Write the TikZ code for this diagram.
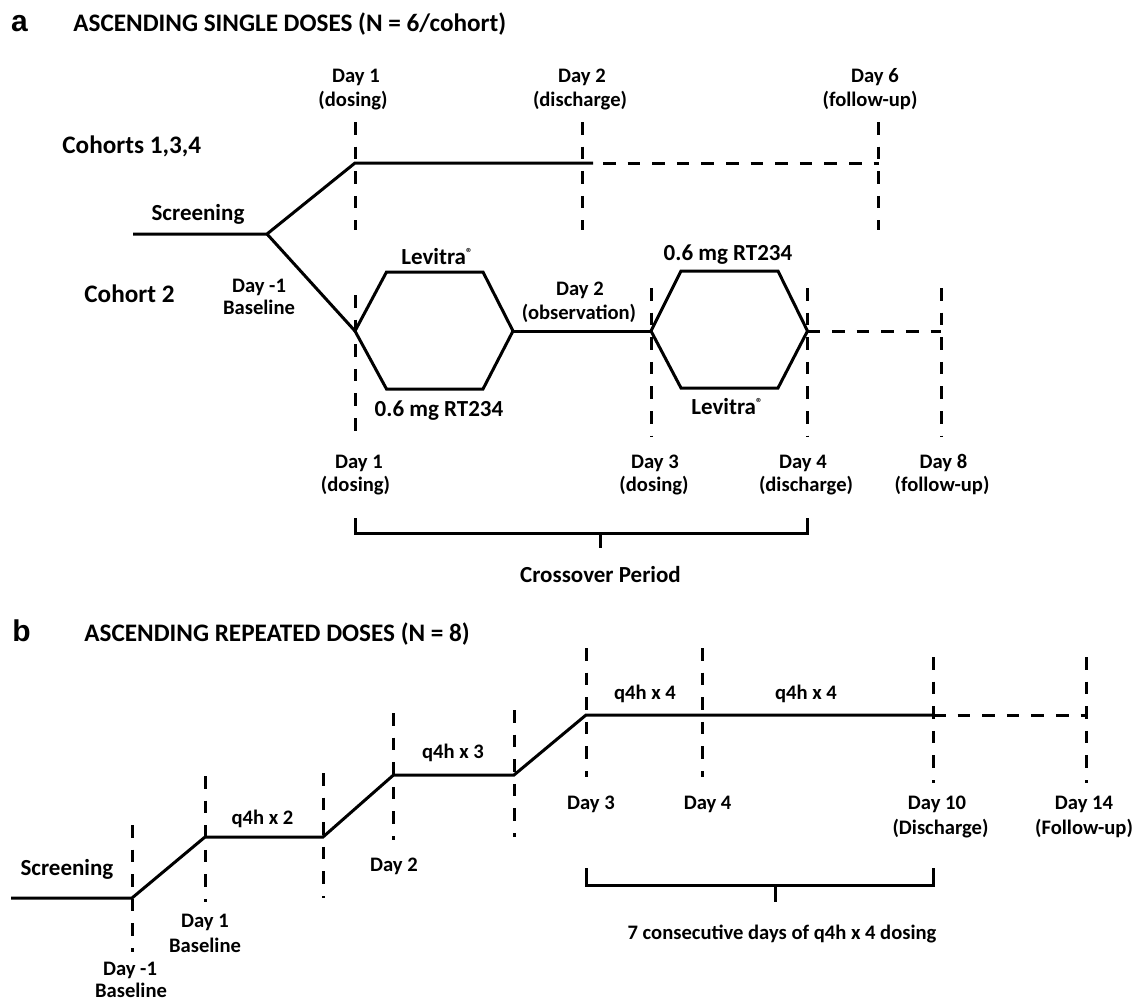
\documentclass[tikz,border=0pt]{standalone}
\usepackage{fontspec}
\setmainfont{Carlito}
\newfontfamily\panelfont{Liberation Sans}
\newcommand{\regmark}{\raisebox{0.55ex}{\fontsize{6.5}{6.5}\selectfont\textregistered}}
\begin{document}
\begin{tikzpicture}[x=0.5pt,y=-0.5pt,
  tl/.style={line width=1.5pt, line cap=butt, line join=miter},
  dl/.style={tl, dash pattern=on 6.3pt off 6pt},
  lbl/.style={font=\bfseries\fontsize{10.3}{12}\selectfont, inner sep=0pt, anchor=base},
  drug/.style={font=\bfseries\fontsize{11.5}{13}\selectfont, inner sep=0pt, anchor=base},
  grp/.style={font=\bfseries\fontsize{12.6}{14}\selectfont, inner sep=0pt, anchor=base west},
  ttl/.style={font=\bfseries\fontsize{12.6}{14}\selectfont, inner sep=0pt, anchor=base west},
  pnl/.style={font=\panelfont\bfseries\fontsize{15}{17}\selectfont, inner sep=0pt, anchor=base}]
\useasboundingbox (0,0) rectangle (1135,1001);
\clip (0,0) rectangle (1135,1001);

% ================= Panel a =================
\node[pnl] (pa) at (19.5,32) {a};
\node[ttl] (ta) at (73,32) {ASCENDING SINGLE DOSES (N = 6/cohort)};
\node[grp] (c134) at (62,153) {Cohorts 1,3,4};
\node[grp] (c2) at (84,302) {Cohort 2};
\node[drug] (scra) at (198,220.5) {Screening};
\node[lbl] (dm1a) at (259,292.5) {Day -1};
\node[lbl] (dm1b) at (259,314.5) {Baseline};

\node[lbl] (t1a) at (356,82.5) {Day 1};
\node[lbl] (t1b) at (353,106.5) {(dosing)};
\node[lbl] (t2a) at (582,82.5) {Day 2};
\node[lbl] (t2b) at (580,106.5) {(discharge)};
\node[lbl] (t6a) at (875,82.5) {Day 6};
\node[lbl] (t6b) at (870,106.5) {(follow-up)};

\node[drug] (lev1) at (437,264) {Levitra\regmark};
\node[drug] (rt1) at (439,416) {0.6 mg RT234};
\node[drug] (rt2) at (728,260) {0.6 mg RT234};
\node[drug] (lev2) at (727,414) {Levitra\regmark};
\node[lbl] (obsa) at (580,295.5) {Day 2};
\node[lbl] (obsb) at (579,319.5) {(observation)};

\node[lbl] (b1a) at (359,468.5) {Day 1};
\node[lbl] (b1b) at (355.5,491.5) {(dosing)};
\node[lbl] (b3a) at (655,468.5) {Day 3};
\node[lbl] (b3b) at (654,491.5) {(dosing)};
\node[lbl] (b4a) at (803,468.5) {Day 4};
\node[lbl] (b4b) at (806,491.5) {(discharge)};
\node[lbl] (b8a) at (943.5,468.5) {Day 8};
\node[lbl] (b8b) at (942,491.5) {(follow-up)};
\node[drug] (cross) at (600.5,582.5) {Crossover Period};

% coordinates panel a
\coordinate (s0) at (133,234);
\coordinate (sp) at (267,234);
\coordinate (u1) at (355,163);
\coordinate (u2) at (593,163);
\coordinate (u3) at (603,163);
\coordinate (u4) at (879,163);
\coordinate (l1) at (355,331);
\coordinate (h1a) at (386.5,272);
\coordinate (h1b) at (483,272);
\coordinate (h1c) at (513,331);
\coordinate (h1d) at (483,389);
\coordinate (h1e) at (386.5,389);
\coordinate (h2s) at (651,331);
\coordinate (h2a) at (681,271);
\coordinate (h2b) at (778,271);
\coordinate (h2c) at (807.5,331);
\coordinate (h2d) at (778,388);
\coordinate (h2e) at (681,388);
\coordinate (fe) at (941,331);

\draw[tl] (s0) -- (sp) -- (u1) -- (u2);
\draw[dl] (u3) -- (u4);
\draw[tl] (sp) -- (l1);
\draw[tl] (l1) -- (h1a) -- (h1b) -- (h1c) -- (h1d) -- (h1e) -- cycle;
\draw[tl] (h1c) -- (h2s);
\draw[tl] (h2s) -- (h2a) -- (h2b) -- (h2c) -- (h2d) -- (h2e) -- cycle;
\draw[dl] (h2c) -- (fe);

% vertical day markers panel a
\draw[dl] (355,122) -- (355,230);
\draw[dl] (582,122) -- (582,230);
\draw[dl] (878,122) -- (878,230);
\draw[dl] (355,295) -- (355,442);
\draw[dl] (651,288) -- (651,437);
\draw[dl] (807.5,288) -- (807.5,437);
\draw[dl] (941,288) -- (941,437);

% crossover bracket
\coordinate (cbl) at (355,518);
\coordinate (cbr) at (807.5,518);
\coordinate (cbm) at (600,533);
\draw[tl] (cbl) -- (355,533) -- (807.5,533) -- (cbr);
\draw[tl] (cbm) -- (600,548);

% ================= Panel b =================
\node[pnl] (pb) at (21.5,641) {b};
\node[ttl] (tb) at (84,641) {ASCENDING REPEATED DOSES (N = 8)};
\node[drug] (scrb) at (67,875.5) {Screening};
\node[lbl] (q2) at (262.5,824.5) {q4h x 2};
\node[lbl] (q3) at (453,758.5) {q4h x 3};
\node[lbl] (q4a) at (645,699.5) {q4h x 4};
\node[lbl] (q4b) at (806,699.5) {q4h x 4};
\node[lbl] (bd2) at (394,871.5) {Day 2};
\node[lbl] (bd1a) at (205,927.5) {Day 1};
\node[lbl] (bd1b) at (205,952.5) {Baseline};
\node[lbl] (bdm1a) at (130,975.5) {Day -1};
\node[lbl] (bdm1b) at (131,997) {Baseline};
\node[lbl] (bd3) at (591,809.5) {Day 3};
\node[lbl] (bd4) at (707.6,809.5) {Day 4};
\node[lbl] (bd10a) at (937,809.5) {Day 10};
\node[lbl] (bd10b) at (940.5,834.5) {(Discharge)};
\node[lbl] (bd14a) at (1084,809.5) {Day 14};
\node[lbl] (bd14b) at (1084,834.5) {(Follow-up)};
\node[lbl] (cons) at (782,939.5) {7 consecutive days of q4h x 4 dosing};

\coordinate (p0) at (11,898);
\coordinate (p1) at (132,898);
\coordinate (p2) at (205,837);
\coordinate (p3) at (323,837);
\coordinate (p4) at (393.5,775);
\coordinate (p5) at (514,775);
\coordinate (p6) at (586,715);
\coordinate (p7) at (933,715);
\coordinate (p8) at (1086,715);
\draw[tl] (p0) -- (p1) -- (p2) -- (p3) -- (p4) -- (p5) -- (p6) -- (p7);
\draw[dl] (p7) -- (p8);

\draw[dl] (132,825) -- (132,952);
\draw[dl] (205,776) -- (205,902);
\draw[dl] (323,773) -- (323,898);
\draw[dl] (393.5,713) -- (393.5,840);
\draw[dl] (514,710) -- (514,837);
\draw[dl] (586,648) -- (586,777);
\draw[dl] (702,648) -- (702,777);
\draw[dl] (933,657) -- (933,783);
\draw[dl] (1086,657) -- (1086,783);

\coordinate (dbl) at (586,868);
\coordinate (dbr) at (933,868);
\coordinate (dbm) at (775,885);
\draw[tl] (dbl) -- (586,885) -- (933,885) -- (dbr);
\draw[tl] (dbm) -- (775,902);
\end{tikzpicture}
\end{document}
